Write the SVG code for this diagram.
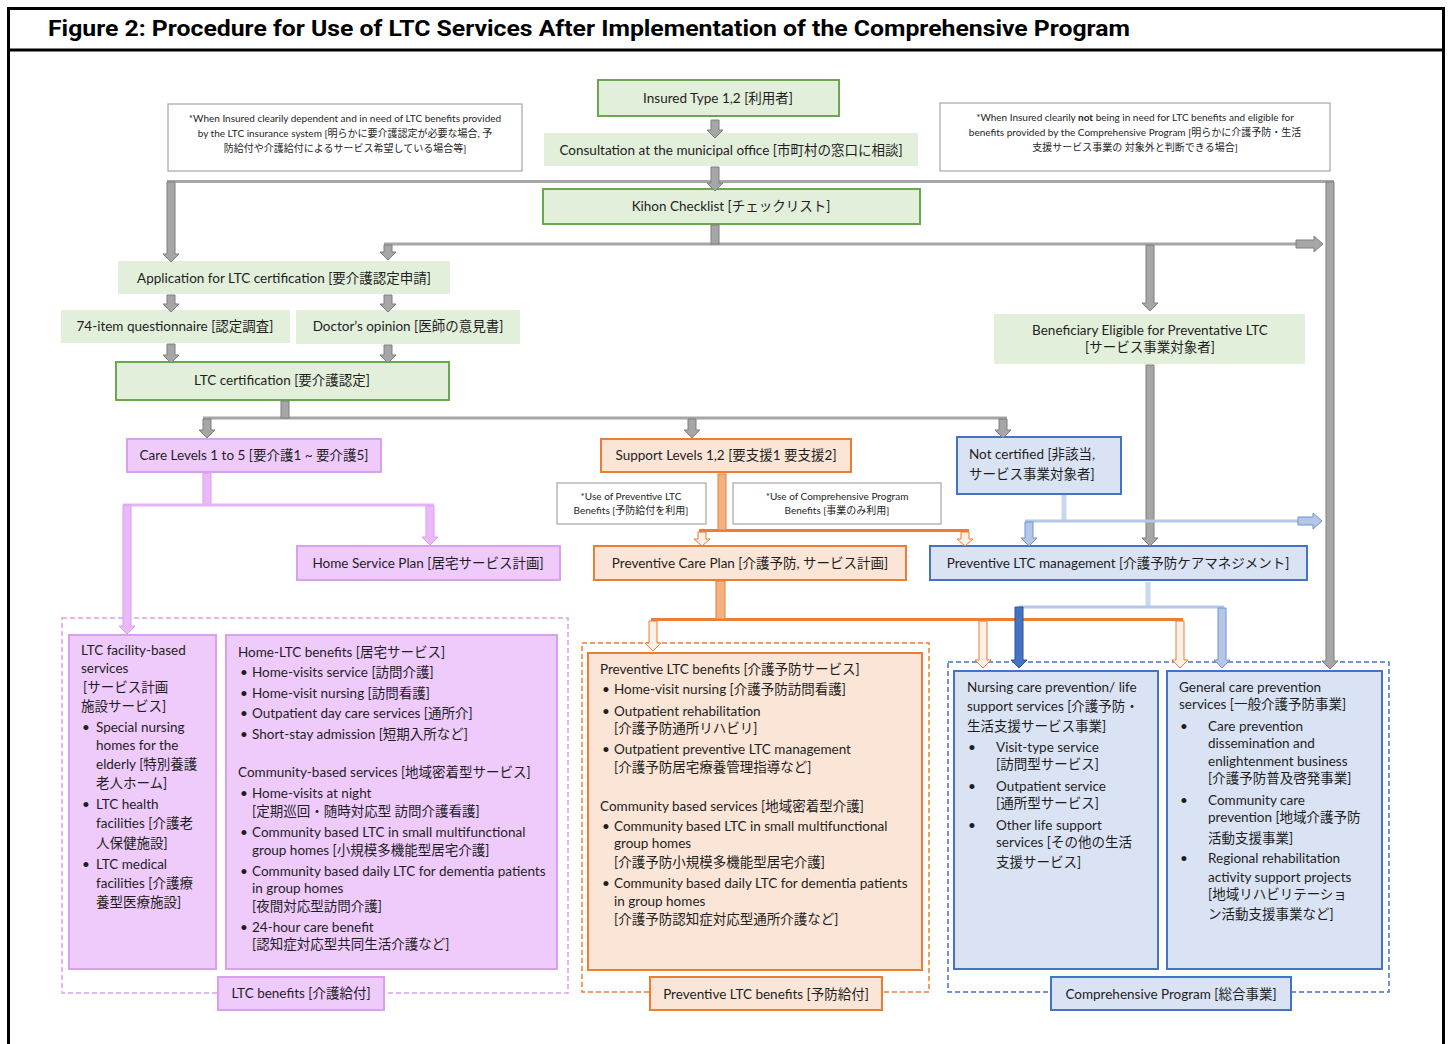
<svg xmlns="http://www.w3.org/2000/svg" width="1449" height="1044" viewBox="0 0 1449 1044">
<defs>
<style>
text{font-family:Lato,"Noto Sans CJK JP",sans-serif;font-size:13.5px;fill:#1e1e1e;dominant-baseline:central}
.c{text-anchor:middle}
.n{font-size:10px}
.title{font-family:Roboto,"Liberation Sans",sans-serif;font-weight:700;font-size:22px;fill:#000}
.gbox{fill:#e2efda;stroke:#6aa84f;stroke-width:2}
.gfill{fill:#e2efda}
.note{fill:#fff;stroke:#a6a6a6;stroke-width:1.2}
.pbox{fill:#efcbfc;stroke:#d9a0ee;stroke-width:2}
.obox{fill:#fbe5d6;stroke:#ed7d31;stroke-width:2}
.bbox{fill:#dae3f3;stroke:#4472c4;stroke-width:2}
.ga{fill:#a6a6a6;stroke:#7f7f7f;stroke-width:1}
.gl{stroke:#a6a6a6;stroke-width:3;fill:none}
.pa{fill:#eab8fb;stroke:#d9a0ee;stroke-width:1}
.pl{stroke:#e6b3f8;stroke-width:3;fill:none}
.oa{fill:#f4b183;stroke:#ed7d31;stroke-width:1}
.oh{fill:#fdf0e7;stroke:#ed7d31;stroke-width:1}
.ol{stroke:#ed7d31;stroke-width:3;fill:none}
.ba{fill:#b4c7e7;stroke:#6f93d3;stroke-width:1}
.bd{fill:#4472c4;stroke:#2f5597;stroke-width:1}
.bl{stroke:#b4c7e7;stroke-width:3;fill:none}
.dash{fill:none;stroke-width:1.5;stroke-dasharray:5 3}
</style>
</defs>
<rect x="0" y="0" width="1449" height="1044" fill="#fff"/>
<g id="frame">
<rect x="8.5" y="8.5" width="1435" height="1060" fill="none" stroke="#000" stroke-width="3"/>
<line x1="8" y1="50" x2="1444" y2="50" stroke="#000" stroke-width="3"/>
<text class="title" x="48" y="28" textLength="1082" lengthAdjust="spacingAndGlyphs">Figure 2: Procedure for Use of LTC Services After Implementation of the Comprehensive Program</text>
</g>

<g id="groups">
<rect class="dash" x="62" y="618" width="506" height="375" stroke="#d9a0ee"/>
<rect class="dash" x="582" y="643" width="347" height="349" stroke="#ed7d31"/>
<rect class="dash" x="948" y="662" width="441" height="330" stroke="#4472c4"/>
</g>

<g id="note-left">
<rect class="note" x="168" y="104" width="354" height="67"/>
<text class="n c" x="345" y="118">*When Insured clearily dependent and in need of LTC benefits provided</text>
<text class="n c" x="345" y="133">by the LTC insurance system [明らかに要介護認定が必要な場合, 予</text>
<text class="n c" x="345" y="148">防給付や介護給付によるサービス希望している場合等]</text>
</g>
<g id="note-right">
<rect class="note" x="940" y="103" width="390" height="68"/>
<text class="n c" x="1135" y="117">*When Insured clearily <tspan font-weight="700">not</tspan> being in need for LTC benefits and eligible for</text>
<text class="n c" x="1135" y="132">benefits provided by the Comprehensive Program [明らかに介護予防・生活</text>
<text class="n c" x="1135" y="147">支援サービス事業の 対象外と判断できる場合]</text>
</g>

<g id="insured">
<rect class="gbox" x="598" y="80" width="241" height="36"/>
<text class="c" x="718" y="98">Insured Type 1,2 [利用者]</text>
</g>
<g id="consultation">
<rect class="gfill" x="544" y="133" width="374" height="33"/>
<text class="c" x="731" y="150">Consultation at the municipal office [市町村の窓口に相談]</text>
</g>
<g id="kihon">
<rect class="gbox" x="543" y="189" width="377" height="35"/>
<text class="c" x="731" y="206">Kihon Checklist [チェックリスト]</text>
</g>
<g id="application">
<rect class="gfill" x="118" y="261" width="332" height="33"/>
<text class="c" x="284" y="278">Application for LTC certification [要介護認定申請]</text>
</g>
<g id="questionnaire">
<rect class="gfill" x="61" y="310" width="229" height="33"/>
<text class="c" x="175" y="326">74-item questionnaire [認定調査]</text>
</g>
<g id="doctor">
<rect class="gfill" x="296" y="310" width="224" height="34"/>
<text class="c" x="408" y="326">Doctor’s opinion [医師の意見書]</text>
</g>
<g id="ltc-cert">
<rect class="gbox" x="116" y="362" width="333" height="38"/>
<text class="c" x="282" y="380">LTC certification [要介護認定]</text>
</g>
<g id="beneficiary">
<rect class="gfill" x="994" y="314" width="311" height="50"/>
<text class="c" x="1150" y="330">Beneficiary Eligible for Preventative LTC</text>
<text class="c" x="1150" y="347">[サービス事業対象者]</text>
</g>

<g id="care-levels">
<rect class="pbox" x="127" y="439" width="254" height="33"/>
<text class="c" x="254" y="455">Care Levels 1 to 5 [要介護1 ~ 要介護5]</text>
</g>
<g id="support-levels">
<rect class="obox" x="601" y="439" width="250" height="33"/>
<text class="c" x="726" y="455">Support Levels 1,2 [要支援1 要支援2]</text>
</g>
<g id="not-certified">
<rect class="bbox" x="957" y="437" width="164" height="57"/>
<text x="969" y="454">Not certified [非該当,</text>
<text x="969" y="474">サービス事業対象者]</text>
</g>
<g id="note-prev">
<rect class="note" x="557" y="483" width="149" height="41"/>
<text class="n c" x="631" y="496">*Use of Preventive LTC</text>
<text class="n c" x="631" y="510">Benefits [予防給付を利用]</text>
</g>
<g id="note-comp">
<rect class="note" x="733" y="483" width="208" height="41"/>
<text class="n c" x="837" y="496">*Use of Comprehensive Program</text>
<text class="n c" x="837" y="510">Benefits [事業のみ利用]</text>
</g>

<g id="home-service-plan">
<rect class="pbox" x="297" y="546" width="263" height="34"/>
<text class="c" x="428" y="563">Home Service Plan [居宅サービス計画]</text>
</g>
<g id="preventive-care-plan">
<rect class="obox" x="594" y="546" width="312" height="34"/>
<text class="c" x="750" y="563">Preventive Care Plan [介護予防, サービス計画]</text>
</g>
<g id="preventive-ltc-mgmt">
<rect class="bbox" x="930" y="546" width="377" height="34"/>
<text class="c" x="1118" y="563">Preventive LTC management [介護予防ケアマネジメント]</text>
</g>

<g id="facility-services">
<rect class="pbox" x="69" y="635" width="147" height="334"/>
<text x="81" y="650">LTC facility-based</text>
<text x="81" y="668">services</text>
<text x="83" y="687">[サービス計画</text>
<text x="81" y="706">施設サービス]</text>
<text x="82" y="727">•</text><text x="96" y="727">Special nursing</text>
<text x="96" y="745">homes for the</text>
<text x="96" y="764">elderly [特別養護</text>
<text x="96" y="783">老人ホーム]</text>
<text x="82" y="804">•</text><text x="96" y="804">LTC health</text>
<text x="96" y="823">facilities [介護老</text>
<text x="96" y="843">人保健施設]</text>
<text x="82" y="864">•</text><text x="96" y="864">LTC medical</text>
<text x="96" y="883">facilities [介護療</text>
<text x="96" y="902">養型医療施設]</text>
</g>
<g id="home-ltc">
<rect class="pbox" x="226" y="635" width="331" height="334"/>
<text x="238" y="652">Home-LTC benefits [居宅サービス]</text>
<text x="240" y="672">•</text><text x="252" y="672">Home-visits service [訪問介護]</text>
<text x="240" y="693">•</text><text x="252" y="693">Home-visit nursing [訪問看護]</text>
<text x="240" y="713">•</text><text x="252" y="713">Outpatient day care services [通所介]</text>
<text x="240" y="734">•</text><text x="252" y="734">Short-stay admission [短期入所など]</text>
<text x="238" y="772">Community-based services [地域密着型サービス]</text>
<text x="240" y="793">•</text><text x="252" y="793">Home-visits at night</text>
<text x="252" y="811">[定期巡回・随時対応型 訪問介護看護]</text>
<text x="240" y="832">•</text><text x="252" y="832">Community based LTC in small multifunctional</text>
<text x="252" y="850">group homes [小規模多機能型居宅介護]</text>
<text x="240" y="871">•</text><text x="252" y="871">Community based daily LTC for dementia patients</text>
<text x="252" y="888">in group homes</text>
<text x="252" y="906">[夜間対応型訪問介護]</text>
<text x="240" y="927">•</text><text x="252" y="927">24-hour care benefit</text>
<text x="252" y="944">[認知症対応型共同生活介護など]</text>
</g>
<g id="ltc-benefits-label">
<rect class="pbox" x="218" y="977" width="166" height="33"/>
<text class="c" x="301" y="993">LTC benefits [介護給付]</text>
</g>

<g id="preventive-ltc-benefits">
<rect class="obox" x="588" y="653" width="334" height="317"/>
<text x="600" y="669">Preventive LTC benefits [介護予防サービス]</text>
<text x="602" y="689">•</text><text x="614" y="689">Home-visit nursing [介護予防訪問看護]</text>
<text x="602" y="711">•</text><text x="614" y="711">Outpatient rehabilitation</text>
<text x="614" y="728">[介護予防通所リハビリ]</text>
<text x="602" y="749">•</text><text x="614" y="749">Outpatient preventive LTC management</text>
<text x="614" y="767">[介護予防居宅療養管理指導など]</text>
<text x="600" y="806">Community based services [地域密着型介護]</text>
<text x="602" y="826">•</text><text x="614" y="826">Community based LTC in small multifunctional</text>
<text x="614" y="843">group homes</text>
<text x="614" y="862">[介護予防小規模多機能型居宅介護]</text>
<text x="602" y="883">•</text><text x="614" y="883">Community based daily LTC for dementia patients</text>
<text x="614" y="901">in group homes</text>
<text x="614" y="919">[介護予防認知症対応型通所介護など]</text>
</g>
<g id="preventive-benefits-label">
<rect class="obox" x="650" y="977" width="232" height="33"/>
<text class="c" x="766" y="994">Preventive LTC benefits [予防給付]</text>
</g>

<g id="nursing-care-prevention">
<rect class="bbox" x="954" y="671" width="204" height="298"/>
<text x="967" y="687">Nursing care prevention/ life</text>
<text x="967" y="706">support services [介護予防・</text>
<text x="967" y="726">生活支援サービス事業]</text>
<text x="968" y="747">•</text><text x="996" y="747">Visit-type service</text>
<text x="996" y="764">[訪問型サービス]</text>
<text x="968" y="786">•</text><text x="996" y="786">Outpatient service</text>
<text x="996" y="803">[通所型サービス]</text>
<text x="968" y="825">•</text><text x="996" y="825">Other life support</text>
<text x="996" y="842">services [その他の生活</text>
<text x="996" y="862">支援サービス]</text>
</g>
<g id="general-care-prevention">
<rect class="bbox" x="1167" y="671" width="215" height="298"/>
<text x="1179" y="687">General care prevention</text>
<text x="1179" y="704">services [一般介護予防事業]</text>
<text x="1180" y="726">•</text><text x="1208" y="726">Care prevention</text>
<text x="1208" y="743">dissemination and</text>
<text x="1208" y="761">enlightenment business</text>
<text x="1208" y="778">[介護予防普及啓発事業]</text>
<text x="1180" y="800">•</text><text x="1208" y="800">Community care</text>
<text x="1208" y="817">prevention [地域介護予防</text>
<text x="1208" y="838">活動支援事業]</text>
<text x="1180" y="858">•</text><text x="1208" y="858">Regional rehabilitation</text>
<text x="1208" y="877">activity support projects</text>
<text x="1208" y="894">[地域リハビリテーショ</text>
<text x="1208" y="914">ン活動支援事業など]</text>
</g>
<g id="comprehensive-label">
<rect class="bbox" x="1051" y="977" width="240" height="33"/>
<text class="c" x="1171" y="994">Comprehensive Program [総合事業]</text>
</g>

<g id="connectors">
<line class="gl" x1="167" y1="181.5" x2="1334" y2="181.5"/>
<line class="gl" x1="384" y1="244" x2="1298" y2="244"/>
<line class="gl" x1="203" y1="418" x2="1007" y2="418"/>
<path class="ga" d="M711,120 H719 V130 H723 L715,138 L707,130 H711 Z"/>
<path class="ga" d="M711,167 H719 V183 H723 L715,191 L707,183 H711 Z"/>
<rect class="ga" x="711" y="225" width="8" height="19"/>
<path class="ga" d="M167,182 H175 V254 H179 L171,262 L163,254 H167 Z"/>
<path class="ga" d="M384,245 H392 V252 H396 L388,260 L380,252 H384 Z"/>
<path class="ga" d="M1146,245 H1154 V303 H1158 L1150,311 L1142,303 H1146 Z"/>
<path class="ga" d="M1326,182 H1334 V661 H1338 L1330,669 L1322,661 H1326 Z"/>
<path class="ga" d="M1296,240 V248 H1314 V252 L1323,244 L1314,236 V240 Z"/>
<path class="ga" d="M167,295 H175 V304 H179 L171,312 L163,304 H167 Z"/>
<path class="ga" d="M384,295 H392 V304 H396 L388,312 L380,304 H384 Z"/>
<path class="ga" d="M167,344 H175 V355 H179 L171,363 L163,355 H167 Z"/>
<path class="ga" d="M384,345 H392 V355 H396 L388,363 L380,355 H384 Z"/>
<rect class="ga" x="281" y="401" width="8" height="17"/>
<path class="ga" d="M203,419 H211 V430 H215 L207,438 L199,430 H203 Z"/>
<path class="ga" d="M688,419 H696 V430 H700 L692,438 L684,430 H688 Z"/>
<path class="ga" d="M999,419 H1007 V430 H1011 L1003,438 L995,430 H999 Z"/>
<path class="ga" d="M1146,365 H1154 V538 H1158 L1150,546 L1142,538 H1146 Z"/>
<rect class="pa" x="203" y="473" width="8" height="32"/>
<line class="pl" x1="123" y1="505" x2="434" y2="505"/>
<path class="pa" d="M123,505 H131 V626 H135 L127,634 L119,626 H123 Z"/>
<path class="pa" d="M426,506 H434 V537 H438 L430,545 L422,537 H426 Z"/>
<line class="ol" x1="699" y1="530.5" x2="969" y2="530.5"/>
<rect class="oa" x="718" y="474" width="8" height="56"/>
<path class="oh" d="M698,532 H706 V539 H710 L702,546 L694,539 H698 Z"/>
<path class="oh" d="M961,532 H969 V539 H973 L965,546 L957,539 H961 Z"/>
<line class="ol" x1="651" y1="619.5" x2="1183" y2="619.5"/>
<rect class="oa" x="716" y="581" width="9" height="38"/>
<path class="oh" d="M649,621 H657 V643 H661 L653,651 L645,643 H649 Z"/>
<path class="oh" d="M979,621 H987 V660 H991 L983,668 L975,660 H979 Z"/>
<path class="oh" d="M1176,621 H1184 V660 H1188 L1180,668 L1172,660 H1176 Z"/>
<line x1="1064" y1="495" x2="1064" y2="521" stroke="#c9d7ef" stroke-width="5"/>
<line class="bl" x1="1025" y1="521" x2="1300" y2="521"/>
<path class="ba" d="M1298,517 V525 H1313 V529 L1322,521 L1313,513 V517 Z"/>
<path class="ba" d="M1025,522 H1033 V538 H1037 L1029,546 L1021,538 H1025 Z"/>
<line x1="1148" y1="582" x2="1148" y2="607" stroke="#c9d7ef" stroke-width="5"/>
<line class="bl" x1="1019" y1="607" x2="1224" y2="607"/>
<path class="bd" d="M1015,607 H1023 V660 H1027 L1019,668 L1011,660 H1015 Z"/>
<path class="ba" d="M1218,608 H1226 V660 H1230 L1222,668 L1214,660 H1218 Z"/>
</g>
</svg>
